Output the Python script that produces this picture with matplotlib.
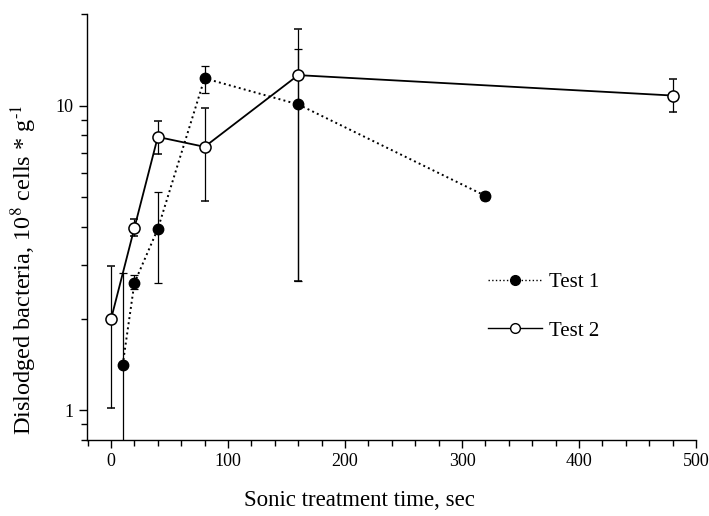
import numpy as np
import matplotlib.pyplot as plt
from matplotlib.lines import Line2D
from matplotlib.ticker import FixedLocator, NullFormatter, FixedFormatter

plt.rcParams['font.family'] = ['Liberation Serif', 'DejaVu Serif']
plt.rcParams['mathtext.fontset'] = 'stix'

# Test 1 (gefüllte Kreise, gepunktete Linie)
t1_x = [10, 20, 40, 80, 160, 320]
t1_y = [1.41, 2.62, 3.94, 12.3, 10.1, 5.06]
t1_lo = [0.70, 2.50, 2.62, 11.0, 2.66, 4.90]
t1_hi = [2.82, 2.78, 5.21, 13.5, 15.4, 5.22]

# Test 2 (offene Kreise, durchgezogene Linie)
t2_x = [0, 20, 40, 80, 160, 480]
t2_y = [1.99, 3.97, 7.9, 7.33, 12.6, 10.8]
t2_lo = [1.02, 3.73, 6.95, 4.87, 2.66, 9.56]
t2_hi = [2.98, 4.25, 8.93, 9.85, 17.8, 12.2]

fig = plt.figure(figsize=(7.09, 5.16), dpi=100)
ax = fig.add_axes([0.1227, 0.1473, 0.8590, 0.8256])

def yerr(y, lo, hi):
    y = np.array(y)
    return [y - np.array(lo), np.array(hi) - y]

ax.errorbar(t1_x, t1_y, yerr=yerr(t1_y, t1_lo, t1_hi), fmt='o', ls=':', color='black',
            mfc='black', mec='black', ms=7.5, lw=1.4, elinewidth=0.9, capsize=3,
            capthick=0.9, zorder=3)
ax.errorbar(t2_x, t2_y, yerr=yerr(t2_y, t2_lo, t2_hi), fmt='o', ls='-', color='black',
            mfc='white', mec='black', ms=8, mew=1.1, lw=1.3, elinewidth=0.9, capsize=3,
            capthick=0.9, zorder=4)

ax.set_yscale('log')
ax.set_xlim(-20.5, 500)
ax.set_ylim(0.8, 20)

ax.xaxis.set_major_locator(FixedLocator([0, 100, 200, 300, 400, 500]))
ax.xaxis.set_minor_locator(FixedLocator(np.arange(-20, 501, 20)))
ax.yaxis.set_major_locator(FixedLocator([1, 10]))
ax.yaxis.set_major_formatter(FixedFormatter(['1', '10']))
ax.yaxis.set_minor_locator(FixedLocator([0.8, 0.9, 2, 3, 4, 5, 6, 7, 8, 9, 20]))
ax.yaxis.set_minor_formatter(NullFormatter())

for s in ['top', 'right']:
    ax.spines[s].set_visible(False)
for s in ['left', 'bottom']:
    ax.spines[s].set_linewidth(1.0)

ax.tick_params(which='major', direction='out', length=6, width=1, labelsize=13)
ax.tick_params(which='minor', direction='out', length=4, width=1)

ax.set_xlabel('Sonic treatment time, sec', fontsize=16.5)
ax.xaxis.set_label_coords(0.447, -0.117)
ax.set_ylabel('Dislodged bacteria, 10$^8$ cells * g$^{\\text{-}1}$', fontsize=17.5)
ax.yaxis.set_label_coords(-0.079, 0.40)

handles = [
    Line2D([], [], color='black', ls=':', lw=1.0, marker='o', mfc='black', ms=7),
    Line2D([], [], color='black', ls='-', lw=1.0, marker='o', mfc='white', ms=7),
]
fig.legend(handles, ['Test 1', 'Test 2'], loc='upper left',
           bbox_to_anchor=(0.688, 0.472), frameon=False, fontsize=15,
           handlelength=2.6, handletextpad=0.35, labelspacing=1.4,
           borderpad=0, borderaxespad=0)

fig.savefig('out.png', dpi=100)
